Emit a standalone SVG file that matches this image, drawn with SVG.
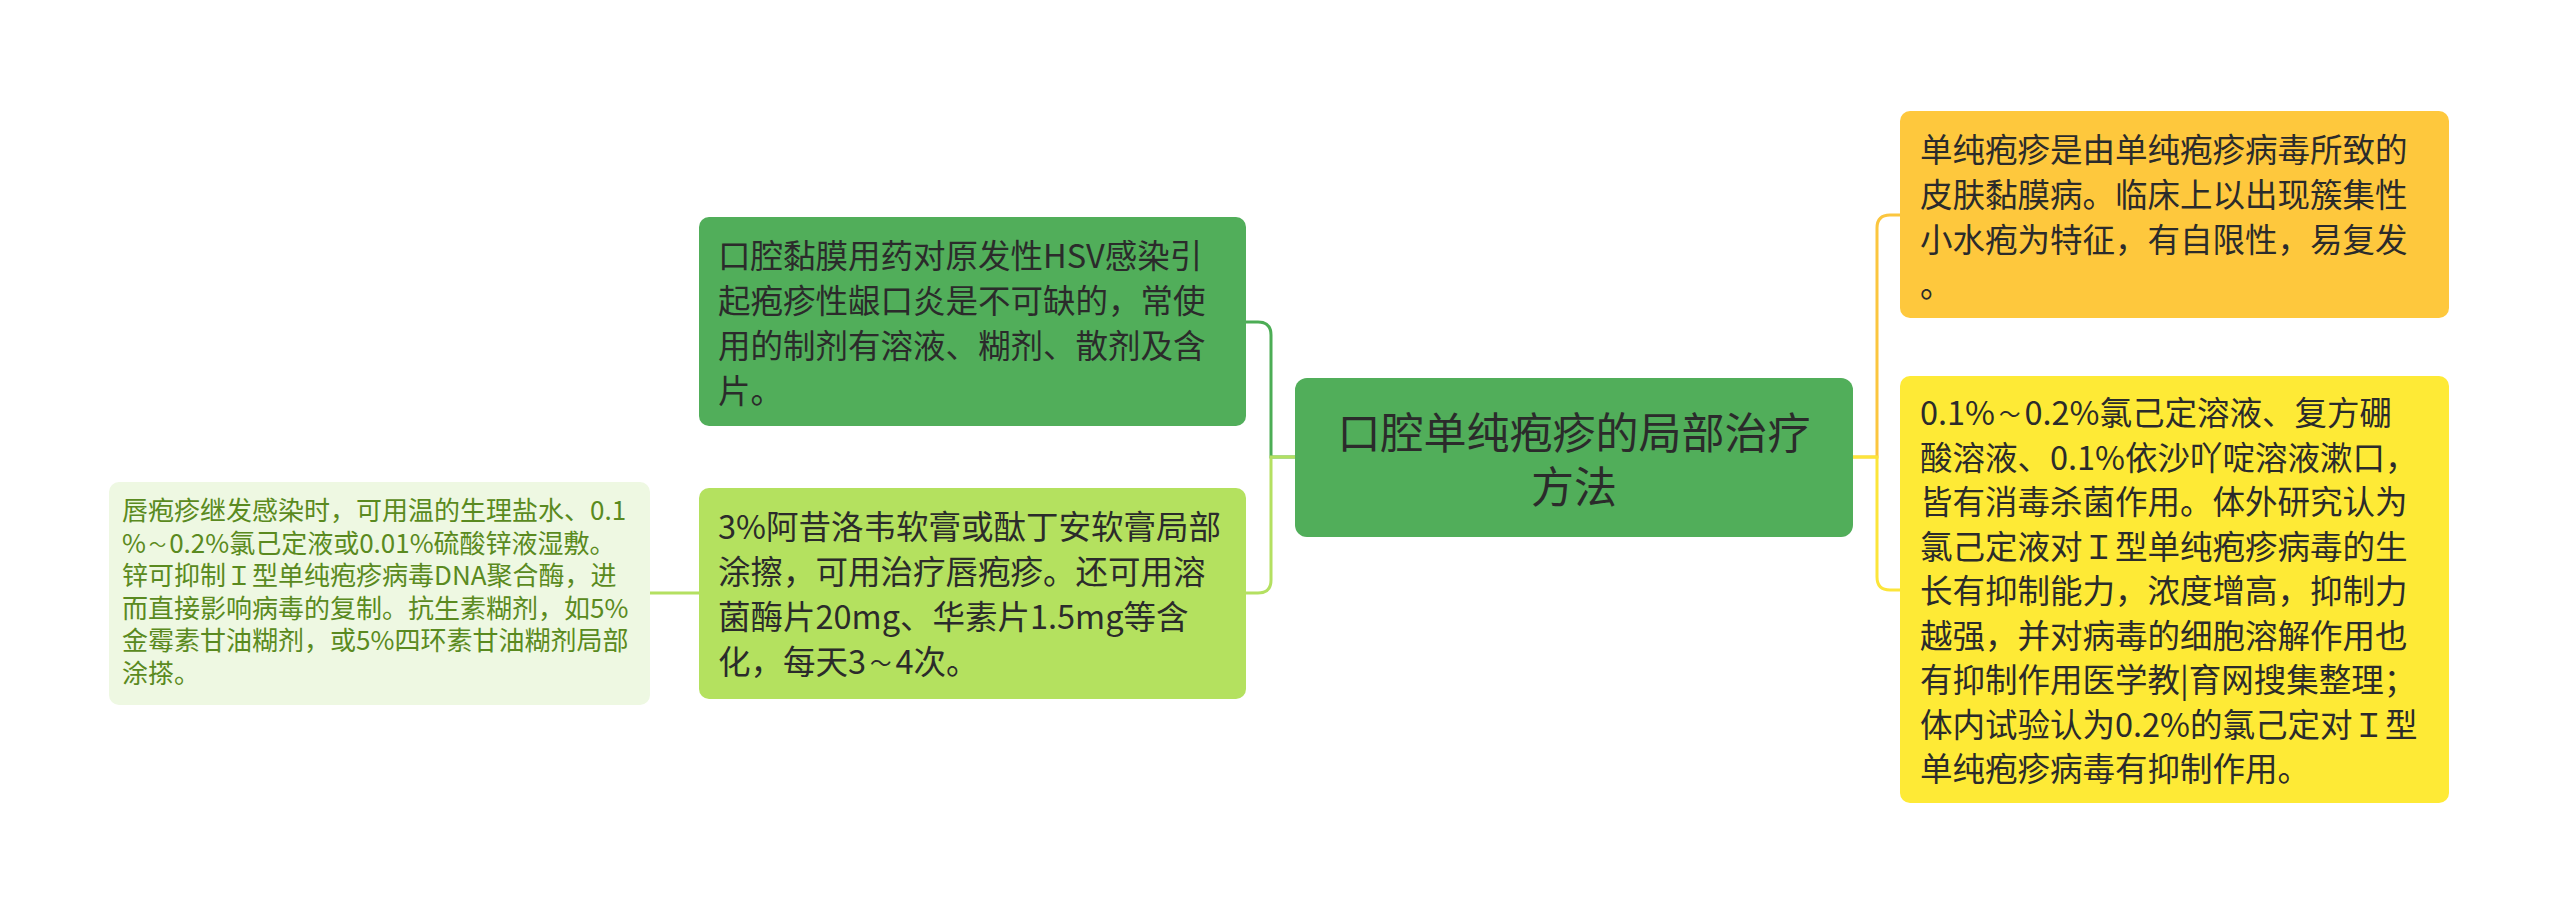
<svg xmlns="http://www.w3.org/2000/svg" width="2560" height="916" viewBox="0 0 2560 916">
<style>
text{font-family:"Noto Sans CJK SC","Noto Sans",sans-serif;fill:#2b2b2b}
.main{font-size:32.5px}
.sub{font-size:26px;fill:#5a8a20}
.center{font-size:43px;text-anchor:middle}
.conn path{fill:none;stroke-width:3;stroke-linecap:round}
.tl{font-size:0.66em}
</style>
<rect width="2560" height="916" fill="#ffffff"/>
<g id="connectors" class="conn">
<path d="M1295 457 H1271 V335 Q1271 322 1258 322 H1246" stroke="#4CAD55"/>
<path d="M1295 457 H1271 V580 Q1271 593 1258 593 H1246" stroke="#B4E061"/>
<path d="M699 593 H650" stroke="#B4E061"/>
<path d="M1853 457 H1877 V228 Q1877 215 1890 215 H1900" stroke="#FBC63F"/>
<path d="M1853 457 H1877 V577 Q1877 590 1890 590 H1900" stroke="#FCE53A"/>
</g>
<g id="central">
<rect x="1295" y="378" width="558" height="159" rx="12" fill="#51AE5A"/>
<text class="center" x="1574" y="449">口腔单纯疱疹的局部治疗<tspan x="1574" dy="54">方法</tspan></text>
</g>
<g id="left1">
<rect x="699" y="217" width="547" height="209" rx="10" fill="#51AE5A"/>
<text class="main" x="718" y="268">口腔黏膜用药对原发性HSV感染引<tspan x="718" dy="45">起疱疹性龈口炎是不可缺的，常使</tspan><tspan x="718" dy="45">用的制剂有溶液、糊剂、散剂及含</tspan><tspan x="718" dy="45">片。</tspan></text>
</g>
<g id="left2">
<rect x="699" y="488" width="547" height="211" rx="10" fill="#B4E15F"/>
<text class="main" x="718" y="539">3%阿昔洛韦软膏或酞丁安软膏局部<tspan x="718" dy="45">涂擦，可用治疗唇疱疹。还可用溶</tspan><tspan x="718" dy="45">菌酶片20mg、华素片1.5mg等含</tspan><tspan x="718" dy="45">化，每天3</tspan><tspan class="tl" dx="4" dy="-3">～</tspan><tspan dx="4" dy="3">4次。</tspan></text>
</g>
<g id="farleft">
<rect x="109" y="482" width="541" height="223" rx="10" fill="#EEF8E2"/>
<text class="sub" x="122" y="520">唇疱疹继发感染时，可用温的生理盐水、0.1<tspan x="122" dy="32.5">%</tspan><tspan class="tl" dx="3" dy="-2">～</tspan><tspan dx="3" dy="2">0.2%氯己定液或0.01%硫酸锌液湿敷。</tspan><tspan x="122" dy="32.5">锌可抑制Ｉ型单纯疱疹病毒DNA聚合酶，进</tspan><tspan x="122" dy="32.5">而直接影响病毒的复制。抗生素糊剂，如5%</tspan><tspan x="122" dy="32.5">金霉素甘油糊剂，或5%四环素甘油糊剂局部</tspan><tspan x="122" dy="32.5">涂搽。</tspan></text>
</g>
<g id="right1">
<rect x="1900" y="111" width="549" height="207" rx="10" fill="#FEC83D"/>
<text class="main" x="1920" y="162">单纯疱疹是由单纯疱疹病毒所致的<tspan x="1920" dy="45">皮肤黏膜病。临床上以出现簇集性</tspan><tspan x="1920" dy="45">小水疱为特征，有自限性，易复发</tspan><tspan x="1920" dy="45">。</tspan></text>
</g>
<g id="right2">
<rect x="1900" y="376" width="549" height="427" rx="10" fill="#FEEA36"/>
<text class="main" x="1920" y="425">0.1%<tspan class="tl" dx="4" dy="-3">～</tspan><tspan dx="4" dy="3">0.2%氯己定溶液、复方硼</tspan><tspan x="1920" dy="44.5">酸溶液、0.1%依沙吖啶溶液漱口，</tspan><tspan x="1920" dy="44.5">皆有消毒杀菌作用。体外研究认为</tspan><tspan x="1920" dy="44.5">氯己定液对Ｉ型单纯疱疹病毒的生</tspan><tspan x="1920" dy="44.5">长有抑制能力，浓度增高，抑制力</tspan><tspan x="1920" dy="44.5">越强，并对病毒的细胞溶解作用也</tspan><tspan x="1920" dy="44.5">有抑制作用医学教|育网搜集整理；</tspan><tspan x="1920" dy="44.5">体内试验认为0.2%的氯己定对Ｉ型</tspan><tspan x="1920" dy="44.5">单纯疱疹病毒有抑制作用。</tspan></text>
</g>
</svg>
